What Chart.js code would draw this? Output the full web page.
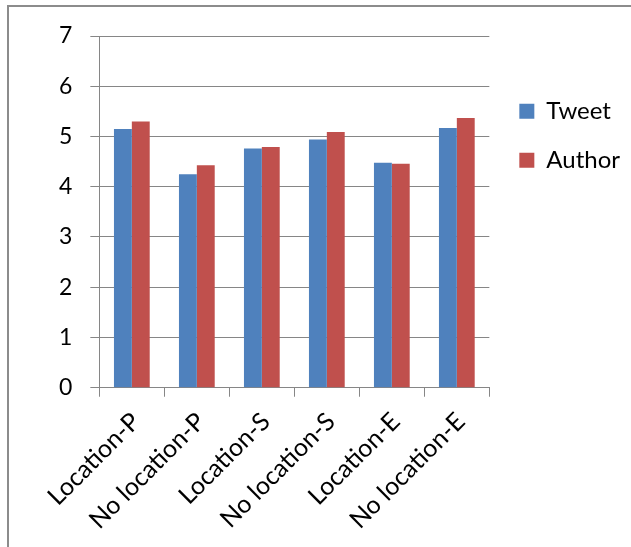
<!DOCTYPE html>
<html>
<head>
<meta charset="utf-8">
<script src="https://cdn.jsdelivr.net/npm/chart.js@4/dist/chart.umd.min.js"></script>
<style>
html,body{margin:0;padding:0;background:#fff;overflow:hidden}
#frame{position:absolute;left:7px;top:5px;width:700px;height:600px;border-left:2px solid #8c8c8c;border-top:2px solid #8c8c8c}
#wrap{position:absolute;left:0;top:0;width:631px;height:547px}
</style>
</head>
<body>
<div id="frame"></div>
<div id="wrap"><canvas id="c"></canvas></div>
<script>
// values
const categories = ["Location-P","No location-P","Location-S","No location-S","Location-E","No location-E"];
const tweet  = [5.15, 4.25, 4.76, 4.94, 4.48, 5.17];
const author = [5.30, 4.43, 4.79, 5.09, 4.46, 5.37];
const yTicks = [0,1,2,3,4,5,6,7];

const FONT = "Lato";
const grey = "#868686";

// nudge the legend a bit further from the plot
const legendShift = {id:"legendShift", afterLayout(c){c.legend.left+=5;c.legend.right+=5;}};

new Chart(document.getElementById("c"), {
  type: "bar",
  data: {
    labels: categories,
    datasets: [
      {label:"Tweet",  data:tweet,  backgroundColor:"#4f81bd", categoryPercentage:0.55, barPercentage:1},
      {label:"Author", data:author, backgroundColor:"#c0504d", categoryPercentage:0.55, barPercentage:1}
    ]
  },
  options: {
    responsive:true, maintainAspectRatio:false, animation:false,
    layout:{padding:{left:41,top:36,right:6,bottom:2}},
    plugins:{
      tooltip:{enabled:false},
      legend:{position:"right",align:"start",
        title:{display:true,text:"",padding:{top:37,bottom:0},font:{size:1}},
        labels:{boxWidth:15,boxHeight:15,padding:25,color:"#000",font:{family:FONT,size:24}}}
    },
    scales:{
      x:{grid:{drawOnChartArea:false,drawTicks:true,tickLength:9,offset:true,color:grey},
         border:{display:true,color:grey},
         ticks:{minRotation:45,maxRotation:45,padding:10,labelOffset:4,color:"#000",font:{family:FONT,size:25}}},
      y:{min:0,max:7,
         afterBuildTicks:ax=>{ax.ticks=yTicks.map(v=>({value:v}));},
         grid:{color:grey,tickLength:9},
         border:{display:true,color:grey},
         ticks:{padding:18,color:"#000",font:{family:FONT,size:23}}}
    }
  },
  plugins:[legendShift]
});
</script>
</body>
</html>
